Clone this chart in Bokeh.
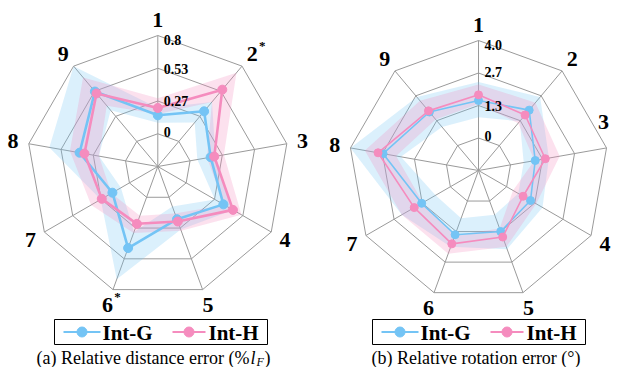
import numpy as np
from bokeh.plotting import figure
from bokeh.models import Range1d
from bokeh.core.properties import value
from bokeh.embed import file_html
from bokeh.resources import INLINE

# ---------------- data ----------------
axis_labels = ["1", "2", "3", "4", "5", "6", "7", "8", "9"]
starred_a = [False, True, False, False, False, True, False, False, False]

# (a) relative distance error
dist_ticks = [0, 0.27, 0.53, 0.8]
dist_tick_labels = ["0", "0.27", "0.53", "0.8"]
dist_G = [0.15, 0.32, 0.17, 0.35, 0.19, 0.44, 0.16, 0.38, 0.53]
dist_G_low = [0.09, 0.20, 0.06, 0.27, 0.08, 0.30, 0.08, 0.22, 0.33]
dist_G_high = [0.21, 0.42, 0.21, 0.44, 0.28, 0.71, 0.27, 0.63, 0.80]
dist_H = [0.21, 0.55, 0.20, 0.44, 0.21, 0.23, 0.26, 0.34, 0.51]
dist_H_low = [0.16, 0.42, 0.14, 0.36, 0.14, 0.16, 0.17, 0.22, 0.38]
dist_H_high = [0.29, 0.73, 0.28, 0.52, 0.29, 0.31, 0.36, 0.46, 0.68]

# (b) relative rotation error
rot_ticks = [0, 1.3, 2.7, 4.0]
rot_tick_labels = ["0", "1.3", "2.7", "4.0"]
rot_G = [1.54, 1.90, 1.03, 1.13, 1.33, 1.47, 1.36, 2.64, 1.80]
rot_G_low = [0.85, 1.30, 0.55, 0.55, 0.60, 0.75, 0.70, 1.90, 1.00]
rot_G_high = [2.30, 2.60, 1.60, 1.70, 2.10, 2.00, 2.30, 4.00, 2.60]
rot_H = [1.77, 1.64, 1.45, 0.78, 1.57, 1.87, 1.71, 2.85, 1.86]
rot_H_low = [1.40, 1.20, 1.00, 0.30, 1.20, 1.50, 1.30, 2.10, 1.40]
rot_H_high = [2.20, 2.30, 2.05, 1.40, 2.00, 2.30, 2.30, 3.40, 2.40]

series_names = ["Int-G", "Int-H"]
series_colors = ["#74C4F5", "#F58CBE"]

captions = ["(a) Relative distance error (%", "(b) Relative rotation error (°)"]

# ---------------- figure ----------------
W, H = 611, 367
p = figure(width=W, height=H, x_range=Range1d(0, W), y_range=Range1d(H, 0),
           output_backend="svg", toolbar_location=None, min_border=0)
p.axis.visible = False
p.grid.visible = False
p.outline_line_color = None
p.background_fill_color = "white"
p.border_fill_color = "white"

SERIF = value("Liberation Serif")
n = len(axis_labels)
ang = np.arange(n) * 2 * np.pi / n


def pos(cx, cy, R, vmax, vals):
    v = np.asarray(vals, dtype=float)
    r = R / 4.0 * (1 + 3 * v / vmax)
    return cx + r * np.sin(ang), cy - r * np.cos(ang)


def radar(cx, cy, R, vmax, ticks, tick_labels, series, lw, ms, stars, label_override=None):
    # grid rings
    for k in range(1, 5):
        rr = R * k / 4.0
        xs = list(cx + rr * np.sin(ang)) + [cx]
        ys = list(cy - rr * np.cos(ang)) + [cy - rr]
        p.line(xs, ys, line_color="#9a9a9a", line_width=1)
    # spokes
    p.segment(x0=[cx] * n, y0=[cy] * n, x1=list(cx + R * np.sin(ang)), y1=list(cy - R * np.cos(ang)),
              line_color="#9a9a9a", line_width=1)
    # bands
    for (mean, low, high), col in zip(series, series_colors):
        ox, oy = pos(cx, cy, R, vmax, high)
        ix, iy = pos(cx, cy, R, vmax, low)
        p.multi_polygons(xs=[[[list(ox), list(ix)]]], ys=[[[list(oy), list(iy)]]],
                         fill_color=col, fill_alpha=0.26, line_color=None)
    # lines
    for (mean, low, high), col in zip(series, series_colors):
        mx, my = pos(cx, cy, R, vmax, mean)
        p.line(list(mx) + [mx[0]], list(my) + [my[0]], line_color=col, line_width=lw)
        p.scatter(list(mx), list(my), size=ms, fill_color=col, line_color=col)
    # tick labels
    offs = [-2, 0, 0, 4]
    for t, lab, o in zip(ticks, tick_labels, offs):
        r = R / 4.0 * (1 + 3 * t / vmax)
        p.text([cx + 6], [cy - r + o], text=[lab], text_font=SERIF, text_font_style="bold",
               text_font_size="14px", text_align="left", text_baseline="middle", text_color="black")
    # axis labels
    lr = R + 16
    lx = cx + lr * np.sin(ang)
    ly = cy - lr * np.cos(ang)
    if label_override:
        for i, (xx, yy) in label_override.items():
            lx[i], ly[i] = xx, yy
    p.text(list(lx), list(ly), text=axis_labels, text_font=SERIF, text_font_style="bold",
           text_font_size="22px", text_align="center", text_baseline="middle", text_color="black")
    sx = [lx[i] + 10 for i in range(n) if stars[i]]
    sy = [ly[i] - 8 for i in range(n) if stars[i]]
    if sx:
        p.text(sx, sy, text=["*"] * len(sx), text_font=SERIF, text_font_style="bold",
               text_font_size="13px", text_align="center", text_baseline="middle", text_color="black")


def legend(x0, y0):
    p.quad(left=[x0], right=[x0 + 213], top=[y0], bottom=[y0 + 25], fill_color="white",
           line_color="black", line_width=1)
    yc = y0 + 12.5
    offsets = [(9, 46, 48), (118, 151, 154)]
    for (a, b, t), col, name in zip(offsets, series_colors, series_names):
        p.line([x0 + a, x0 + b], [yc, yc], line_color=col, line_width=2)
        p.scatter([x0 + (a + b) / 2], [yc], size=10, fill_color=col, line_color=col)
        p.text([x0 + t], [yc + 1], text=[name], text_font=SERIF, text_font_style="bold",
               text_font_size="21px", text_align="left", text_baseline="middle", text_color="black")


radar(157.3, 166, 131, 0.8, dist_ticks, dist_tick_labels,
      [(dist_G, dist_G_low, dist_G_high), (dist_H, dist_H_low, dist_H_high)], 2.6, 9,
      starred_a)
radar(478, 170, 130, 4.0, rot_ticks, rot_tick_labels,
      [(rot_G, rot_G_low, rot_G_high), (rot_H, rot_H_low, rot_H_high)], 1.6, 8,
      [False] * n, label_override={2: (603, 121)})

legend(54, 319)
legend(372, 319)

# captions
cy_cap = 357
p.text([249], [cy_cap], text=[captions[0]], text_font=SERIF, text_font_size="18px",
       text_align="right", text_baseline="middle", text_color="black")
p.text([250], [cy_cap], text=["l"], text_font=SERIF, text_font_style="italic", text_font_size="18px",
       text_align="left", text_baseline="middle", text_color="black")
p.text([256], [cy_cap + 4], text=["F"], text_font=SERIF, text_font_style="italic", text_font_size="12px",
       text_align="left", text_baseline="middle", text_color="black")
p.text([264], [cy_cap], text=[")"], text_font=SERIF, text_font_size="18px",
       text_align="left", text_baseline="middle", text_color="black")
p.text([475.5], [cy_cap], text=[captions[1]], text_font=SERIF, text_font_size="18px",
       text_align="center", text_baseline="middle", text_color="black")

open("out.html", "w").write(file_html(p, INLINE))
